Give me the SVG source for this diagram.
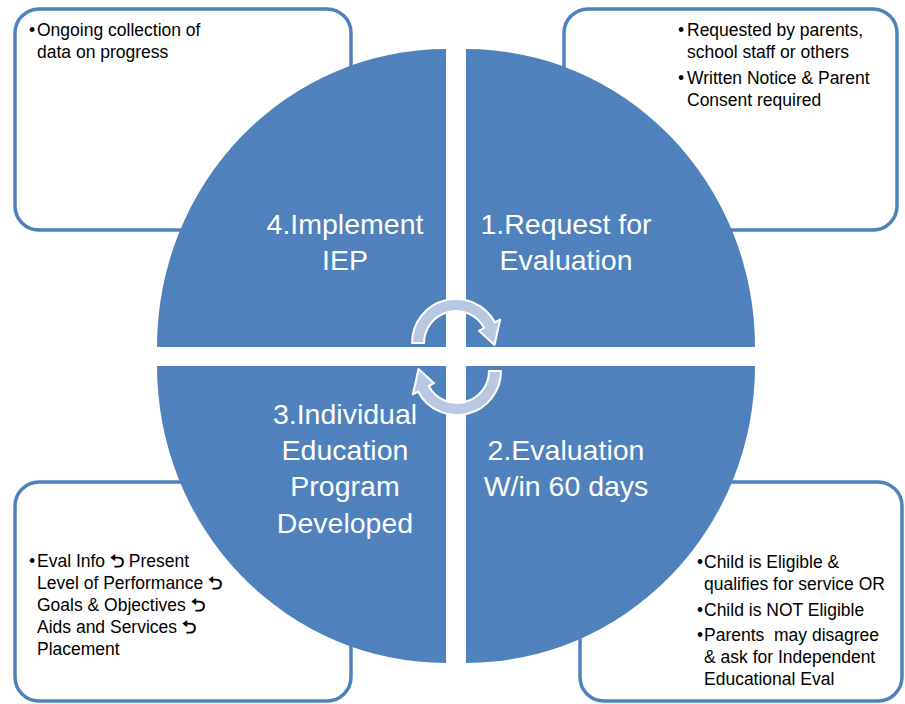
<svg xmlns="http://www.w3.org/2000/svg" width="905" height="704" viewBox="0 0 905 704">
<style>
.box{fill:#ffffff;stroke:#4F81BD;stroke-width:3.5}
.quad{fill:#4F81BD}
.lbl{font-family:"Liberation Sans",Arial,sans-serif;font-size:28.5px;fill:#ffffff;text-anchor:middle}
.note{font-family:"Liberation Sans",Arial,"DejaVu Sans",sans-serif;font-size:17.5px;fill:#000000;white-space:pre}
.sym{font-weight:bold}
.arr{fill:#B9C8E2;stroke:#ffffff;stroke-width:2;stroke-linejoin:round}
</style>
<defs>
<path id="cyc" d="M412,343 A44,44 0 0 1 494.85,322.34 L500.15,319.53 L494.5,345 L478.96,330.79 L484.25,327.98 A32,32 0 0 0 424,343 Z"/>
</defs>
<rect width="905" height="704" fill="#ffffff"/>
<g id="note-implement">
<rect class="box" x="15" y="9" width="336" height="221" rx="24"/>
<text class="note" y="36"><tspan x="29">•</tspan><tspan x="37">Ongoing collection of</tspan></text>
<text class="note" x="37" y="58">data on progress</text>
</g>
<g id="note-request">
<rect class="box" x="564" y="9" width="333" height="221" rx="24"/>
<text class="note" y="36"><tspan x="678">•</tspan><tspan x="687">Requested by parents,</tspan></text>
<text class="note" x="687" y="58">school staff or others</text>
<text class="note" y="84"><tspan x="678">•</tspan><tspan x="687">Written Notice &amp; Parent</tspan></text>
<text class="note" x="687" y="106">Consent required</text>
</g>
<g id="note-iep">
<rect class="box" x="15" y="482" width="336" height="219" rx="24"/>
<text class="note" y="567"><tspan x="29">•</tspan><tspan x="37">Eval Info <tspan class="sym">⮌</tspan> Present</tspan></text>
<text class="note" x="37" y="589">Level of Performance <tspan class="sym">⮌</tspan></text>
<text class="note" x="37" y="611">Goals &amp; Objectives <tspan class="sym">⮌</tspan></text>
<text class="note" x="37" y="633">Aids and Services <tspan class="sym">⮌</tspan></text>
<text class="note" x="37" y="655">Placement</text>
</g>
<g id="note-evaluation">
<rect class="box" x="580" y="482" width="322" height="219" rx="24"/>
<text class="note" y="568"><tspan x="697">•</tspan><tspan x="704">Child is Eligible &amp;</tspan></text>
<text class="note" x="704" y="590">qualifies for service OR</text>
<text class="note" y="616"><tspan x="697">•</tspan><tspan x="704">Child is NOT Eligible</tspan></text>
<text class="note" y="641" xml:space="preserve"><tspan x="697">•</tspan><tspan x="704">Parents  may disagree</tspan></text>
<text class="note" x="704" y="663">&amp; ask for Independent</text>
<text class="note" x="704" y="685">Educational Eval</text>
</g>
<g id="step4">
<path class="quad" d="M446,347 L157,347 A289,298 0 0 1 446,49 Z"/>
<text class="lbl" x="345" y="234">4.Implement</text>
<text class="lbl" x="345" y="270">IEP</text>
</g>
<g id="step1">
<path class="quad" d="M466,347 L466,49 A289,298 0 0 1 755,347 Z"/>
<text class="lbl" x="566" y="234">1.Request for</text>
<text class="lbl" x="566" y="270">Evaluation</text>
</g>
<g id="step2">
<path class="quad" d="M466,366 L755,366 A289,297 0 0 1 466,663 Z"/>
<text class="lbl" x="566" y="460">2.Evaluation</text>
<text class="lbl" x="566" y="496">W/in 60 days</text>
</g>
<g id="step3">
<path class="quad" d="M446,366 L446,663 A289,297 0 0 1 157,366 Z"/>
<text class="lbl" x="345" y="424">3.Individual</text>
<text class="lbl" x="345" y="460">Education</text>
<text class="lbl" x="345" y="496">Program</text>
<text class="lbl" x="345" y="533">Developed</text>
</g>
<g id="connectors">
<use href="#cyc" class="arr"/>
<use href="#cyc" class="arr" transform="rotate(180 456.5 357)"/>
</g>
</svg>
